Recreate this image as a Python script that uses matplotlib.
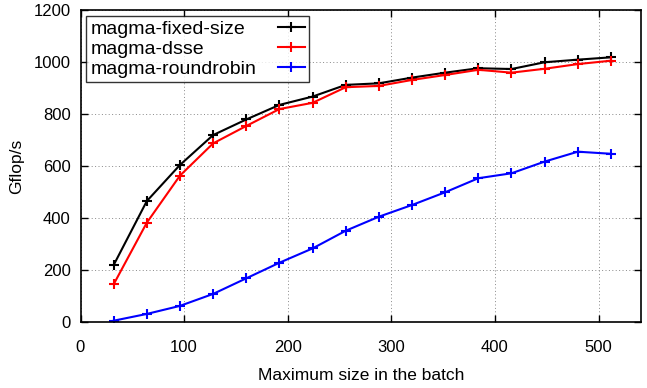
import numpy as np
import matplotlib
matplotlib.use("Agg")
import matplotlib.pyplot as plt

plt.rcParams['font.family'] = ['Liberation Sans', 'DejaVu Sans']

# batch sizes and measured Gflop/s
batch_size = [32, 64, 96, 128, 160, 192, 224, 256, 288, 320, 352, 384, 416, 448, 480, 512]
fixed_size = [219, 465, 604, 719, 779, 835, 867, 912, 918, 940, 959, 976, 973, 999, 1009, 1018]
dsse = [145, 382, 563, 687, 754, 819, 843, 903, 908, 931, 950, 970, 959, 974, 992, 1005]
roundrobin = [5, 31, 62, 108, 168, 228, 283, 351, 405, 450, 499, 553, 572, 617, 655, 647]

series = [
    ("magma-fixed-size", fixed_size, "black"),
    ("magma-dsse", dsse, "red"),
    ("magma-roundrobin", roundrobin, "blue"),
]

fig = plt.figure(figsize=(6.47, 3.88), dpi=100)
ax = fig.add_axes([80.5 / 647, 1 - 322 / 388, (641 - 80.5) / 647, (322 - 10) / 388])

for name, vals, col in series:
    ax.plot(batch_size, vals, color=col, linewidth=1.5, marker='+', markersize=6.5,
            markeredgewidth=1.5, label=name)

ax.set_xlim(0, 541)
ax.set_ylim(0, 1200)
ax.set_xticks(np.arange(0, 501, 100))
ax.set_yticks(np.arange(0, 1201, 200))
ax.grid(True, linestyle=(0, (1, 2.5)), color='#888888', linewidth=0.7)
ax.tick_params(direction='in', top=True, right=True, labelsize=12, length=5, width=1)
ax.tick_params(axis='x', pad=13)
ax.tick_params(axis='y', pad=7)
for s in ax.spines.values():
    s.set_linewidth(1.2)

ax.set_xlabel("Maximum size in the batch", fontsize=12.5, labelpad=9)
ax.set_ylabel("Gflop/s", fontsize=12.5, labelpad=7)

leg = ax.legend(loc='upper left', fontsize=14, frameon=True, fancybox=False,
                edgecolor='black', markerfirst=False, handlelength=1.35,
                handletextpad=0.5, borderaxespad=0.3, labelspacing=0.12,
                borderpad=0.22)
leg.get_frame().set_linewidth(1.0)

# gnuplot style key: text left-justified, samples aligned on the right
for column in leg._legend_handle_box.get_children():
    column.align = "left"
    for item in column.get_children():
        item.mode = "expand"
        item.width = 214

fig.savefig("out.png", dpi=100)
